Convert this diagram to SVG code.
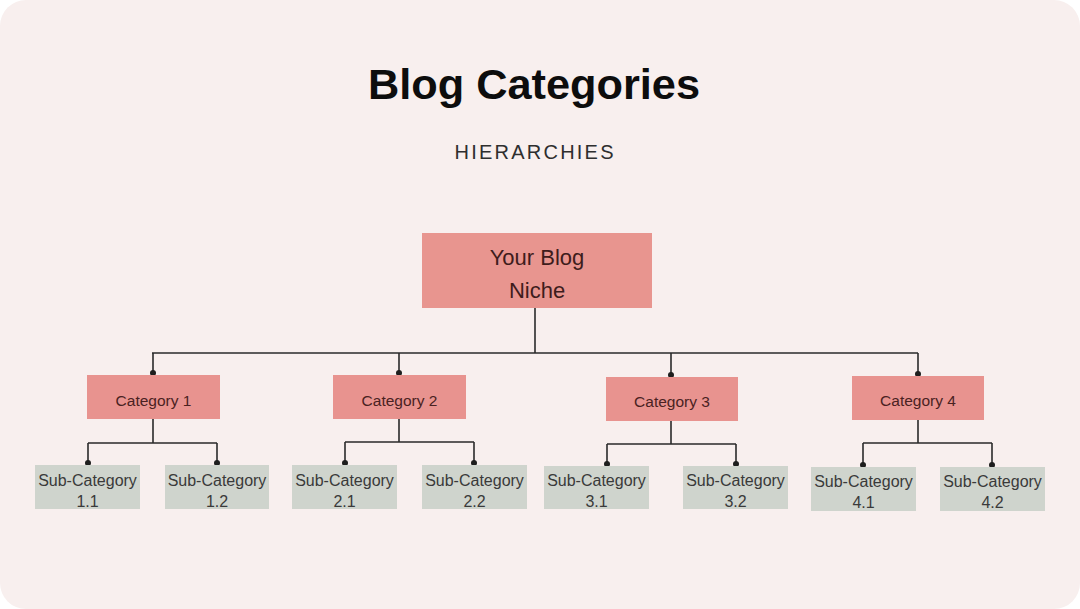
<svg xmlns="http://www.w3.org/2000/svg" width="1080" height="609" viewBox="0 0 1080 609">
<style>
.title{font-family:"Liberation Sans",Arial,sans-serif;font-weight:bold;font-size:42px;fill:#0d0d0d;}
.sub{font-family:"Liberation Sans",Arial,sans-serif;font-size:20px;fill:#2e2e2e;}
.root rect{fill:#e8958f;}
.root text{font-family:"Liberation Sans",Arial,sans-serif;font-size:22px;fill:#3e1c1c;text-anchor:middle;}
.cat rect{fill:#e8938f;}
.cat text{font-family:"Liberation Sans",Arial,sans-serif;font-size:15.5px;fill:#4a2222;text-anchor:middle;}
.leaf rect{fill:#cfd4cd;}
.leaf text{font-family:"Liberation Sans",Arial,sans-serif;font-size:16px;fill:#3a3a3a;text-anchor:middle;}
.conn path{fill:none;stroke:#2a2a2a;stroke-width:1.6;}
</style>
<defs>
<marker id="dot" viewBox="0 0 7 7" refX="3.5" refY="3.5" markerWidth="7" markerHeight="7" markerUnits="userSpaceOnUse">
<circle cx="3.5" cy="3.5" r="3" fill="#1e1e1e"/>
</marker>
</defs>
<rect x="0" y="0" width="1080" height="609" fill="#ffffff"/>
<rect x="0" y="0" width="1080" height="609" rx="26" ry="26" fill="#f8efee"/>
<text class="title" x="534" y="99" text-anchor="middle" textLength="332" lengthAdjust="spacingAndGlyphs">Blog Categories</text>
<text class="sub" x="534" y="159" text-anchor="middle" textLength="159" lengthAdjust="spacing">HIERARCHIES</text>

<g class="conn" id="connectors">
<path d="M535,308 V353"/>
<path d="M152,353 H918"/>
<path d="M153,353 V373" marker-end="url(#dot)"/>
<path d="M399,353 V373" marker-end="url(#dot)"/>
<path d="M671,353 V375" marker-end="url(#dot)"/>
<path d="M918,353 V374" marker-end="url(#dot)"/>
<path d="M153,419 V443 M88,443 H217"/>
<path d="M88,443 V463" marker-end="url(#dot)"/>
<path d="M217,443 V463" marker-end="url(#dot)"/>
<path d="M399,419 V442 M345,442 H474"/>
<path d="M345,442 V463" marker-end="url(#dot)"/>
<path d="M474,442 V463" marker-end="url(#dot)"/>
<path d="M671,421 V444 M607,444 H736"/>
<path d="M607,444 V464" marker-end="url(#dot)"/>
<path d="M736,444 V464" marker-end="url(#dot)"/>
<path d="M918,420 V443 M863,443 H992"/>
<path d="M863,443 V465" marker-end="url(#dot)"/>
<path d="M992,443 V465" marker-end="url(#dot)"/>
</g>

<g class="root" id="root">
<rect x="422" y="233" width="230" height="75"/>
<text x="537" y="265">Your Blog</text>
<text x="537" y="298">Niche</text>
</g>

<g class="cat" id="cat1"><rect x="87" y="375" width="133" height="44"/><text x="153.5" y="406">Category 1</text></g>
<g class="cat" id="cat2"><rect x="333" y="375" width="133" height="44"/><text x="399.5" y="406">Category 2</text></g>
<g class="cat" id="cat3"><rect x="606" y="377" width="132" height="44"/><text x="672" y="407">Category 3</text></g>
<g class="cat" id="cat4"><rect x="852" y="376" width="132" height="44"/><text x="918" y="406">Category 4</text></g>

<g class="leaf" id="sub11"><rect x="35" y="465" width="105" height="44"/><text x="87.5" y="485.5">Sub-Category</text><text x="87.5" y="506.5">1.1</text></g>
<g class="leaf" id="sub12"><rect x="165" y="465" width="104" height="44"/><text x="217" y="485.5">Sub-Category</text><text x="217" y="506.5">1.2</text></g>
<g class="leaf" id="sub21"><rect x="292" y="465" width="105" height="44"/><text x="344.5" y="485.5">Sub-Category</text><text x="344.5" y="506.5">2.1</text></g>
<g class="leaf" id="sub22"><rect x="422" y="465" width="105" height="44"/><text x="474.5" y="485.5">Sub-Category</text><text x="474.5" y="506.5">2.2</text></g>
<g class="leaf" id="sub31"><rect x="544" y="466" width="105" height="43"/><text x="596.5" y="486">Sub-Category</text><text x="596.5" y="507">3.1</text></g>
<g class="leaf" id="sub32"><rect x="683" y="466" width="105" height="43"/><text x="735.5" y="486">Sub-Category</text><text x="735.5" y="507">3.2</text></g>
<g class="leaf" id="sub41"><rect x="811" y="467" width="105" height="44"/><text x="863.5" y="486.5">Sub-Category</text><text x="863.5" y="507.5">4.1</text></g>
<g class="leaf" id="sub42"><rect x="940" y="467" width="105" height="44"/><text x="992.5" y="486.5">Sub-Category</text><text x="992.5" y="507.5">4.2</text></g>
</svg>
